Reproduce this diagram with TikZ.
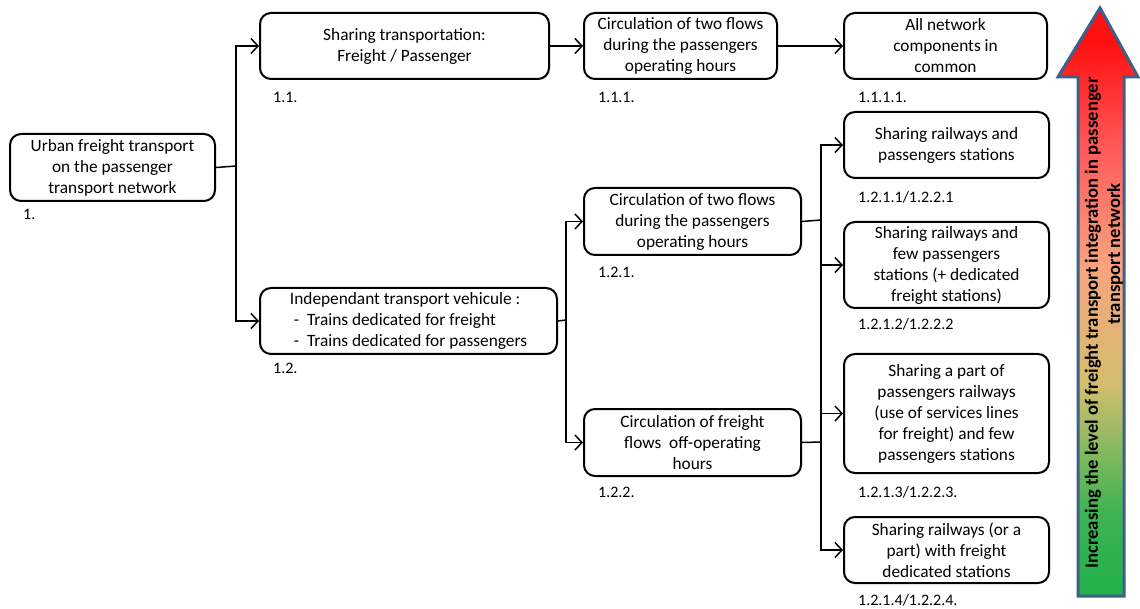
\documentclass[tikz,border=0pt]{standalone}
\usepackage{fontspec}
\setmainfont{Carlito}
\usetikzlibrary{arrows.meta,calc,positioning}
\definecolor{ArrowRed}{HTML}{FF1010}
\definecolor{ArrowRose}{HTML}{FF5A5A}
\definecolor{ArrowSalmon}{HTML}{F8A47E}
\definecolor{ArrowKhaki}{HTML}{D2BE6C}
\definecolor{ArrowGreen}{HTML}{22B14C}
\definecolor{ArrowRim}{HTML}{3F5E8C}
\pgfdeclareverticalshading{IntegrationFade}{100bp}{color(0bp)=(ArrowGreen); color(25bp)=(ArrowGreen); color(32bp)=(ArrowGreen!85!ArrowKhaki); color(43bp)=(ArrowKhaki); color(53bp)=(ArrowSalmon); color(63bp)=(ArrowRose); color(72bp)=(ArrowRed); color(100bp)=(ArrowRed)}

\begin{document}
\begin{tikzpicture}[x=1pt,y=-1pt,
    box/.style={draw=black, line width=2pt, rounded corners=11pt, inner sep=0pt,
      align=center, anchor=north west, font=\fontsize{17.3}{21}\selectfont},
    tag/.style={anchor=west, inner sep=0pt, font=\fontsize{16}{19}\selectfont},
    wire/.style={line width=1.5pt},
    link/.style={wire, -{Straight Barb[length=7pt,width=15pt,line width=1.5pt]}}]
  \useasboundingbox (0,0) rectangle (1140,609);

  % tree of boxes
  \node[box, minimum width=205, minimum height=67] (urban) at (9,133)
    {Urban freight transport\\on the passenger\\transport network};
  \node[box, minimum width=289, minimum height=66] (share) at (259,12)
    {Sharing transportation:\\Freight / Passenger};
  \node[box, minimum width=193, minimum height=66] (flowsday) at (583,12)
    {Circulation of two flows\\during the passengers\\operating hours};
  \node[box, minimum width=203, minimum height=66] (common) at (843,12)
    {All network\\components in\\common};
  \node[box, minimum width=297, minimum height=66] (indep) at (259,287)
    {\begin{tabular}{@{}l@{}}Independant transport vehicule :\\
      \ -\ \ Trains dedicated for freight\\
      \ -\ \ Trains dedicated for passengers\end{tabular}};
  \node[box, minimum width=217, minimum height=67] (twoflows) at (583,187)
    {Circulation of two flows\\during the passengers\\operating hours};
  \node[box, minimum width=217, minimum height=67] (offhours) at (583,408)
    {Circulation of freight\\flows\ \ off-operating\\hours};
  \node[box, minimum width=205, minimum height=66] (railsta) at (843,111)
    {Sharing railways and\\passengers stations};
  \node[box, minimum width=205, minimum height=86] (fewsta) at (843,221)
    {Sharing railways and\\few passengers\\stations (+ dedicated\\freight stations)};
  \node[box, minimum width=205, minimum height=119] (partrail) at (843,353)
    {Sharing a part of\\passengers railways\\(use of services lines\\for freight) and few\\passengers stations};
  \node[box, minimum width=205, minimum height=66] (dedsta) at (843,516)
    {Sharing railways (or a\\part) with freight\\dedicated stations};

  % numbering under the boxes
  \node[tag] (t1) at (23,214) {1.};
  \node[tag] (t11) at (273,97) {1.1.};
  \node[tag] (t111) at (598,97) {1.1.1.};
  \node[tag] (t1111) at (858,97) {1.1.1.1.};
  \node[tag] (t12) at (273,368) {1.2.};
  \node[tag] (t121) at (598,272) {1.2.1.};
  \node[tag] (t122) at (598,492) {1.2.2.};
  \node[tag] (t1a) at (858,197) {1.2.1.1/1.2.2.1};
  \node[tag] (t1b) at (858,324) {1.2.1.2/1.2.2.2};
  \node[tag] (t1c) at (858,492) {1.2.1.3/1.2.2.3.};
  \node[tag] (t1d) at (858,600) {1.2.1.4/1.2.2.4.};

  % connectors
  \coordinate (j1) at (236,166);
  \coordinate (j2) at (566,320);
  \coordinate (j3) at (821,220);
  \coordinate (j4) at (821,442);
  \draw[wire] (urban.east) -- (j1);
  \draw[link] (j1) |- (share.west);
  \draw[link] (j1) |- (indep.west);
  \draw[link] (share.east) -- (flowsday.west);
  \draw[link] (flowsday.east) -- (common.west);
  \draw[wire] (indep.east) -- (j2);
  \draw[link] (j2) |- (twoflows.west);
  \draw[link] (j2) |- (offhours.west);
  \draw[wire] (twoflows.east) -- (j3);
  \draw[wire] (offhours.east) -- (j4);
  \draw[wire] (j3) -- (j4);
  \draw[link] (j3) |- (railsta.west);
  \draw[link] (j3) |- (fewsta.west);
  \draw[link] (j4) |- (partrail.west);
  \draw[link] (j4) |- (dedsta.west);

  % big arrow on the right
  \draw[draw=ArrowRim, line width=3pt, line join=miter, shading=IntegrationFade]
    (1078,596) -- (1078,77) -- (1058,77) -- (1100,8) -- (1138,77)
    -- (1124,77) -- (1124,596) -- cycle;
  \node[rotate=90, inner sep=0pt, font=\bfseries\fontsize{18.6}{22}\selectfont]
    (scaleA) at (1093,323) {Increasing the level of freight transport integration in passenger};
  \node[rotate=90, inner sep=0pt, font=\bfseries\fontsize{18.6}{22}\selectfont]
    (scaleB) at (1115,254) {transport network};
\end{tikzpicture}
\end{document}
